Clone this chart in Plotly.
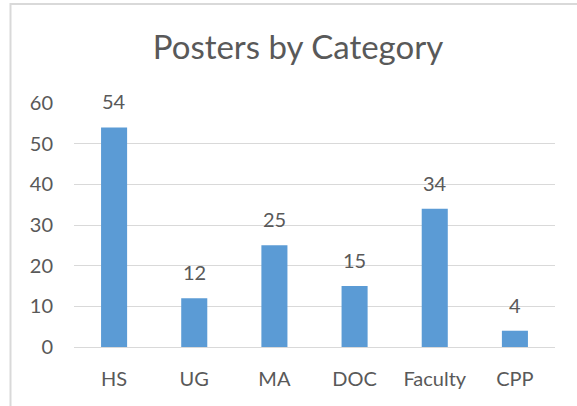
import plotly.graph_objects as go

categories = ["HS", "UG", "MA", "DOC", "Faculty", "CPP"]
values = [54, 12, 25, 15, 34, 4]
y_ticks = [0, 10, 20, 30, 40, 50, 60]

TXT = "#595959"
FONT = "Lato"

fig = go.Figure(go.Bar(x=categories, y=values, marker=dict(color="#5B9BD5", line=dict(width=0)),
                       width=0.325, hoverinfo="x+y"))

for c, v in zip(categories, values):
    fig.add_annotation(x=c, y=v, text=str(v), showarrow=False, yanchor="bottom",
                       yshift=12, font=dict(family=FONT, size=20, color=TXT))

fig.update_layout(
    width=577, height=406,
    margin=dict(l=74, r=22, t=103, b=59),
    paper_bgcolor="white", plot_bgcolor="white",
    title=dict(text="Posters by Category", x=298 / 577, xref="container", xanchor="center",
               y=1 - 47 / 406, yref="container", yanchor="middle",
               font=dict(family=FONT, size=33, color=TXT)),
    xaxis=dict(showgrid=False, showline=False, ticks="", ticklabelstandoff=18,
               tickfont=dict(family=FONT, size=20, color=TXT)),
    yaxis=dict(range=[0, 60], tickvals=y_ticks, showgrid=True, gridcolor="#d9d9d9", gridwidth=1,
               zeroline=True, zerolinecolor="#d9d9d9", zerolinewidth=1, showline=False, ticks="",
               ticklabelstandoff=20, tickfont=dict(family=FONT, size=20, color=TXT)),
    showlegend=False,
    shapes=[dict(type="rect", xref="paper", yref="paper", x0=(10.5 - 74) / 481, x1=1.3,
                 y0=-0.5, y1=(347 - 4) / 244,
                 line=dict(color="#d9d9d9", width=2), fillcolor="rgba(0,0,0,0)", layer="below")],
)

fig.write_html("out.html", config={"displayModeBar": False},
               post_script="document.body.style.margin='0';document.body.style.overflow='hidden';")
